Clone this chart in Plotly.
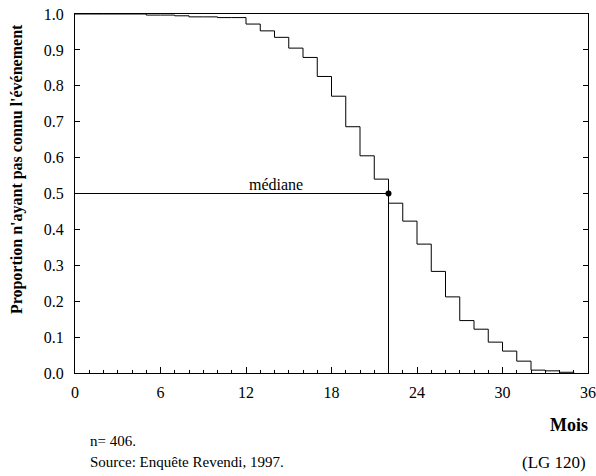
import plotly.graph_objects as go

# Survival values at the start of each monthly interval (months 0..35)
months = list(range(0, 36))
survival = [1.0, 1.0, 1.0, 1.0, 1.0, 0.997, 0.997, 0.995, 0.992, 0.992,
            0.990, 0.990, 0.972, 0.953, 0.935, 0.905, 0.879, 0.826, 0.771, 0.686,
            0.605, 0.540, 0.473, 0.423, 0.359, 0.283, 0.212, 0.146, 0.122, 0.086,
            0.061, 0.033, 0.008, 0.006, 0.002, 0.0]

median_month = 22
median_value = 0.5

x_ticks = [0, 6, 12, 18, 24, 30, 36]
y_ticks = [0.0, 0.1, 0.2, 0.3, 0.4, 0.5, 0.6, 0.7, 0.8, 0.9, 1.0]

FONT = "Liberation Serif, Times New Roman, serif"

fig = go.Figure()
fig.add_trace(go.Scatter(x=months, y=survival, mode="lines", line_shape="hv",
                         line=dict(color="black", width=1), hoverinfo="skip"))
fig.add_trace(go.Scatter(x=[0, median_month, median_month], y=[median_value, median_value, 0],
                         mode="lines", line=dict(color="black", width=1), hoverinfo="skip"))
fig.add_trace(go.Scatter(x=[median_month], y=[median_value], mode="markers",
                         marker=dict(color="black", size=6), hoverinfo="skip"))

fig.add_annotation(x=14.1, y=median_value, text="médiane", showarrow=False,
                   yanchor="bottom", yshift=-1, font=dict(family=FONT, size=16, color="black"))

fig.update_layout(
    width=596, height=476,
    margin=dict(l=75, r=8, t=14, b=103),
    paper_bgcolor="white", plot_bgcolor="white",
    showlegend=False,
    font=dict(family=FONT, size=16, color="black"),
    xaxis=dict(range=[0, 36], tickvals=x_ticks, ticktext=[str(v) for v in x_ticks],
               ticks="inside", ticklen=6, tickwidth=1, tickcolor="black",
               minor=dict(dtick=1, tick0=0, ticks="inside", ticklen=3, tickcolor="black", tickwidth=1),
               showline=True, linecolor="black", linewidth=1, mirror=True, automargin=False,
               ticklabelstandoff=5,
               showgrid=False, zeroline=False, tickfont=dict(family=FONT, size=16)),
    yaxis=dict(range=[0, 1.0], tickvals=y_ticks, ticktext=[f"{v:.1f}" for v in y_ticks],
               ticks="inside", ticklen=5, tickwidth=1, tickcolor="black",
               showline=True, linecolor="black", linewidth=1, mirror="ticks", automargin=False,
               ticklabelstandoff=7,
               showgrid=False, zeroline=False, tickfont=dict(family=FONT, size=16)),
)

# Y-axis title as rotated annotation for exact placement
fig.add_annotation(xref="paper", yref="paper", x=-0.113, y=0.568, textangle=-90,
                   text="<b>Proportion n'ayant pas connu l'événement</b>", showarrow=False,
                   xanchor="center", yanchor="middle",
                   font=dict(family=FONT, size=16, color="black"))
fig.add_annotation(xref="paper", yref="paper", x=1.004, y=-0.145, text="<b>Mois</b>",
                   showarrow=False, xanchor="right", yanchor="middle",
                   font=dict(family=FONT, size=18, color="black"))
fig.add_annotation(xref="paper", yref="paper", x=0.025, y=-0.189, text="n= 406.",
                   showarrow=False, xanchor="left", yanchor="middle",
                   font=dict(family=FONT, size=15, color="black"))
fig.add_annotation(xref="paper", yref="paper", x=0.025, y=-0.248, text="Source: Enquête Revendi, 1997.",
                   showarrow=False, xanchor="left", yanchor="middle",
                   font=dict(family=FONT, size=15, color="black"))
fig.add_annotation(xref="paper", yref="paper", x=1.0, y=-0.248, text="(LG 120)",
                   showarrow=False, xanchor="right", yanchor="middle",
                   font=dict(family=FONT, size=17, color="black"))

fig.write_html("out.html")
